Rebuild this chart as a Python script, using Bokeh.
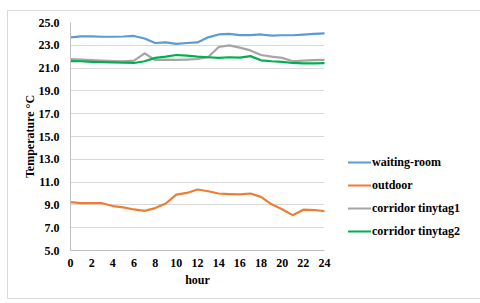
from bokeh.plotting import figure
from bokeh.models import Legend, LegendItem, FixedTicker, PrintfTickFormatter, Range1d
from bokeh.embed import file_html
from bokeh.resources import INLINE

hours = list(range(25))
waiting_room = [23.70, 23.78, 23.78, 23.75, 23.75, 23.77, 23.82, 23.60, 23.20, 23.25, 23.12, 23.20, 23.25,
                23.70, 23.95, 24.00, 23.90, 23.90, 23.95, 23.85, 23.88, 23.88, 23.93, 24.00, 24.05]
outdoor = [9.25, 9.15, 9.15, 9.15, 8.90, 8.78, 8.60, 8.48, 8.72, 9.12, 9.90, 10.05, 10.35,
           10.20, 10.00, 9.95, 9.92, 10.00, 9.70, 9.05, 8.62, 8.10, 8.58, 8.55, 8.45]
tinytag1 = [21.78, 21.75, 21.70, 21.65, 21.62, 21.60, 21.65, 22.30, 21.70, 21.75, 21.72, 21.75, 21.80,
            21.95, 22.85, 23.00, 22.80, 22.55, 22.15, 22.00, 21.90, 21.60, 21.65, 21.70, 21.73]
tinytag2 = [21.62, 21.60, 21.55, 21.52, 21.50, 21.48, 21.45, 21.60, 21.90, 22.00, 22.15, 22.10, 22.00,
            21.95, 21.90, 21.95, 21.92, 22.05, 21.68, 21.60, 21.55, 21.45, 21.42, 21.42, 21.43]

series_names = ["waiting-room", "outdoor", "corridor tinytag1", "corridor tinytag2"]
series_values = [waiting_room, outdoor, tinytag1, tinytag2]
colors = ["#5B9BD5", "#ED7D31", "#A5A5A5", "#00B050"]
y_ticks = [5, 7, 9, 11, 13, 15, 17, 19, 21, 23, 25]
x_ticks = list(range(0, 25, 2))

FONT = "Liberation Serif"

p = figure(frame_width=254, frame_height=228, output_backend="svg", toolbar_location=None,
           x_range=Range1d(0, 24), y_range=Range1d(5, 25),
           min_border_left=62, min_border_right=149, min_border_top=11, min_border_bottom=48)
p.styles = {"border": "1px solid #d9d9d9", "margin-left": "7px", "margin-top": "10px"}
p.outline_line_color = None
p.xgrid.grid_line_color = None
p.ygrid.grid_line_color = "#d9d9d9"
p.ygrid.grid_line_width = 1

p.yaxis.ticker = FixedTicker(ticks=y_ticks)
p.yaxis.formatter = PrintfTickFormatter(format="%.1f")
p.xaxis.ticker = FixedTicker(ticks=x_ticks)
for ax in [p.xaxis[0], p.yaxis[0]]:
    ax.major_tick_line_color = None
    ax.minor_tick_line_color = None
    ax.axis_line_color = "#bfbfbf"
    ax.major_label_text_font = FONT
    ax.major_label_text_font_style = "bold"
    ax.major_label_text_font_size = "12px"
    ax.major_label_text_color = "#000000"
    ax.axis_label_text_font = FONT
    ax.axis_label_text_font_style = "bold"
    ax.axis_label_text_font_size = "12px"
    ax.axis_label_text_color = "#000000"
p.yaxis.axis_label = "Temperature °C"
p.xaxis.axis_label = "hour"
p.yaxis.major_label_standoff = 5
p.xaxis.major_label_standoff = 2
p.yaxis.axis_label_standoff = -1
p.xaxis.axis_label_standoff = 3

items = []
for name, vals, c in zip(series_names, series_values, colors):
    r = p.line(hours, vals, line_color=c, line_width=2.2, line_join="round", line_cap="round")
    items.append(LegendItem(label=name, renderers=[r]))

legend = Legend(items=items, location=(24, 11), padding=0, margin=0,
                border_line_alpha=0, background_fill_alpha=0,
                glyph_width=23, glyph_height=16, label_height=16, spacing=7,
                label_standoff=1, label_text_font=FONT, label_text_font_style="bold",
                label_text_font_size="12px", label_text_color="#000000")
p.add_layout(legend, "right")

open("out.html", "w").write(file_html(p, INLINE))
